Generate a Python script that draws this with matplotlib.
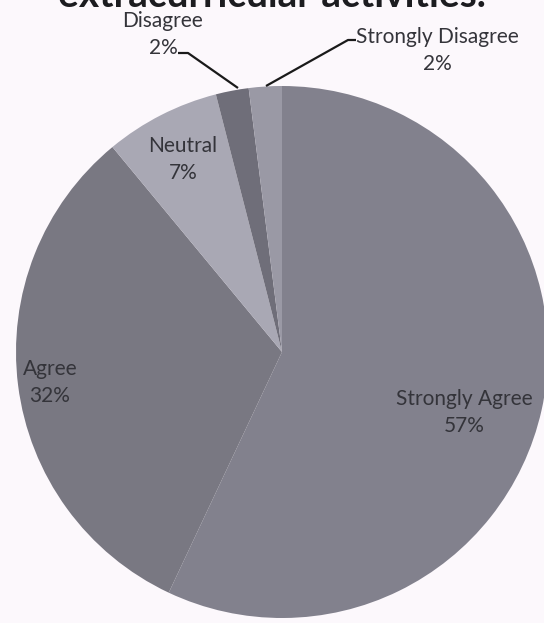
import matplotlib
matplotlib.use("Agg")
import matplotlib.pyplot as plt

# Survey responses
categories = ["Strongly Agree", "Agree", "Neutral", "Disagree", "Strongly Disagree"]
shares = [57, 32, 7, 2, 2]
title_text = "extracurricular activities."

slice_colors = ["#82818d", "#797882", "#a9a8b4", "#6f6e79", "#9a99a5"]
bg = "#fcf8fc"
text_color = "#34343a"

W, H = 544, 623
fig = plt.figure(figsize=(W / 100, H / 100), dpi=100, facecolor=bg)
ax = fig.add_axes([0, 0, 1, 1])
ax.set_facecolor(bg)

cx, cy, r = 282, H - 352, 266
wedges, _ = ax.pie(shares, colors=slice_colors, startangle=90, counterclock=False,
                   center=(cx, cy), radius=r, wedgeprops=dict(linewidth=0))
ax.set_xlim(0, W)
ax.set_ylim(0, H)
ax.set_aspect("equal")
ax.axis("off")

font = "Lato"
fs = 15

def y(px):
    return H - px

# title, partly cropped at the top edge
ax.text(272, y(7), title_text, ha="center", va="baseline", fontsize=28,
        fontweight="bold", family=font, color="#1c1c20")

# slice labels: name on one line, share on the next
label_pos = {
    "Strongly Agree": (464, 399),
    "Agree": (50, 369),
    "Neutral": (183, 146),
    "Disagree": (163, 21),
    "Strongly Disagree": (437, 37),
}
for cat, val in zip(categories, shares):
    lx, ly = label_pos[cat]
    ax.text(lx, y(ly), cat, ha="center", va="center", fontsize=fs, family=font, color=text_color)
    ax.text(lx, y(ly + 27), f"{val}%", ha="center", va="center", fontsize=fs, family=font, color=text_color)

# leader lines for the two small slices
ax.plot([178, 188, 238], [y(53), y(53), y(88)], color="#1a1a1a", lw=1.6, solid_capstyle="butt")
ax.plot([356, 348, 266], [y(40), y(40), y(86)], color="#1a1a1a", lw=1.6, solid_capstyle="butt")

fig.savefig("out.png", dpi=100, facecolor=bg)
